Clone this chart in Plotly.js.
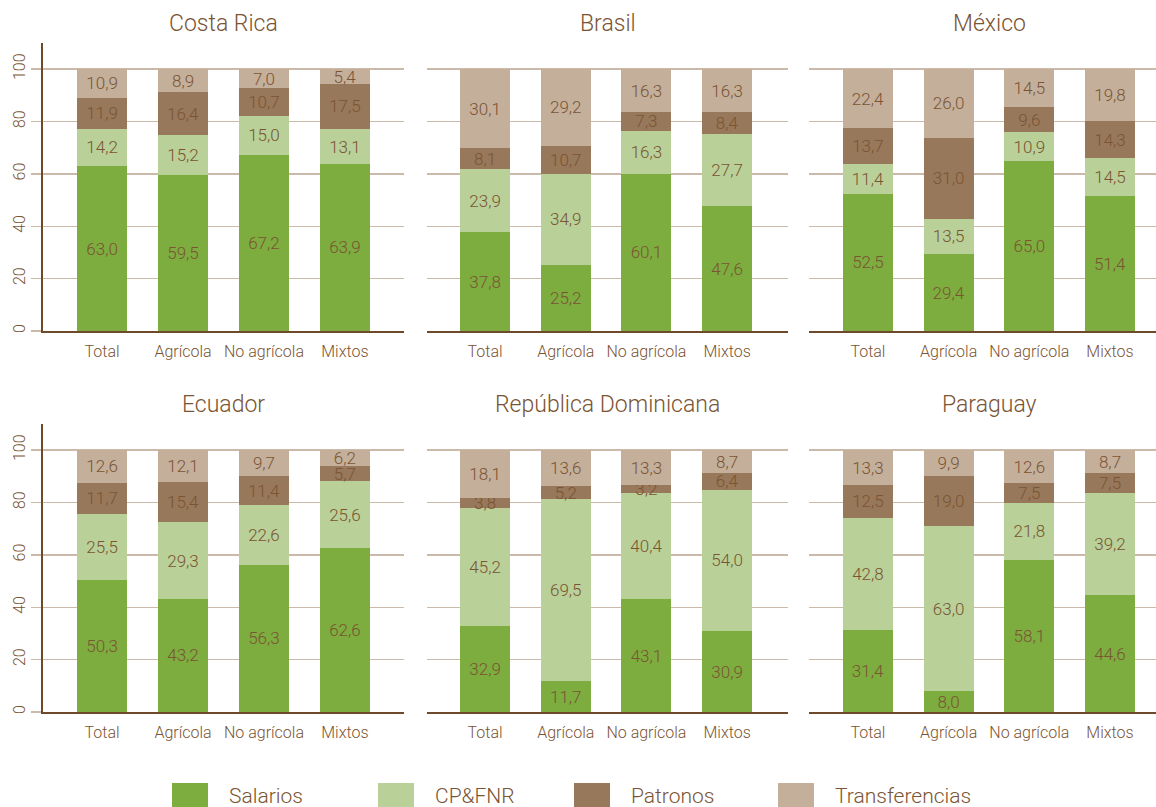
<!DOCTYPE html>
<html>
<head>
<meta charset="utf-8">
<script src="https://cdn.plot.ly/plotly-3.0.1.min.js"></script>
<style>html,body{margin:0;padding:0;background:#fff;}#chart{width:1156px;height:807px;}</style>
</head>
<body>
<div id="chart"></div>
<script>
// ---- Data ----
const categories = ['Total', 'Agrícola', 'No agrícola', 'Mixtos'];
const countries = ['Costa Rica', 'Brasil', 'México', 'Ecuador', 'República Dominicana', 'Paraguay'];
const seriesNames = ['Salarios', 'CP&FNR', 'Patronos', 'Transferencias'];
const salarios = [
  [63.0, 59.5, 67.2, 63.9],
  [37.8, 25.2, 60.1, 47.6],
  [52.5, 29.4, 65.0, 51.4],
  [50.3, 43.2, 56.3, 62.6],
  [32.9, 11.7, 43.1, 30.9],
  [31.4, 8.0, 58.1, 44.6]
];
const cpfnr = [
  [14.2, 15.2, 15.0, 13.1],
  [23.9, 34.9, 16.3, 27.7],
  [11.4, 13.5, 10.9, 14.5],
  [25.5, 29.3, 22.6, 25.6],
  [45.2, 69.5, 40.4, 54.0],
  [42.8, 63.0, 21.8, 39.2]
];
const patronos = [
  [11.9, 16.4, 10.7, 17.5],
  [8.1, 10.7, 7.3, 8.4],
  [13.7, 31.0, 9.6, 14.3],
  [11.7, 15.4, 11.4, 5.7],
  [3.8, 5.2, 3.2, 6.4],
  [12.5, 19.0, 7.5, 7.5]
];
const transferencias = [
  [10.9, 8.9, 7.0, 5.4],
  [30.1, 29.2, 16.3, 16.3],
  [22.4, 26.0, 14.5, 19.8],
  [12.6, 12.1, 9.7, 6.2],
  [18.1, 13.6, 13.3, 8.7],
  [13.3, 9.9, 12.6, 8.7]
];
const yTicks = [0, 20, 40, 60, 80, 100];

// ---- Style ----
const colors = ['#7dad3f', '#b9d098', '#98785a', '#c4af9b'];
const textColor = '#7a5433';
const gridColor = '#cbbaaa';
const axisColor = '#6e4a2a';
const FONT = 'Roboto, "Liberation Sans", Arial, sans-serif';
const W = 1156, H = 807;

const allSeries = [salarios, cpfnr, patronos, transferencias];

// subplot geometry (pixels)
const colDomains = [[43, 404], [427, 788], [809, 1156]];
const colRanges = [[-0.73, 3.73], [-0.72, 3.755], [-0.73, 3.57]];
const rowDomains = [[43, 331], [424, 712]]; // top px, bottom px
const titleX = [223.5, 607.5, 989];
const titleY = [24, 405];

const traces = [];
const layout = {
  width: W, height: H,
  margin: {l: 0, r: 0, t: 0, b: 0},
  paper_bgcolor: '#ffffff',
  plot_bgcolor: 'rgba(0,0,0,0)',
  barmode: 'stack',
  separators: ',.',
  showlegend: false,
  font: {family: FONT, color: textColor, weight: 300},
  annotations: [],
  shapes: []
};

countries.forEach((country, i) => {
  const row = Math.floor(i / 3), col = i % 3;
  const n = i + 1;
  const xa = n === 1 ? 'x' : 'x' + n;
  const ya = n === 1 ? 'y' : 'y' + n;
  allSeries.forEach((s, k) => {
    traces.push({
      type: 'bar',
      name: seriesNames[k],
      x: categories,
      y: s[i],
      xaxis: xa, yaxis: ya,
      width: 0.62,
      marker: {color: colors[k], line: {width: 0}},
      texttemplate: '%{y:.1f}',
      textposition: 'inside',
      insidetextanchor: 'middle',
      constraintext: 'none',
      textfont: {family: FONT, size: 17, color: textColor, weight: 300},
      hoverinfo: 'name+y',
      showlegend: false
    });
  });
  const xd = colDomains[col], yd = rowDomains[row];
  layout['xaxis' + (n === 1 ? '' : n)] = {
    domain: [xd[0] / W, xd[1] / W],
    range: colRanges[col],
    anchor: ya,
    type: 'category',
    showline: true, linecolor: axisColor, linewidth: 2,
    showgrid: false, zeroline: false,
    ticks: '', ticklabelstandoff: 5,
    tickfont: {family: FONT, size: 16, color: textColor, weight: 300},
    fixedrange: true
  };
  layout['yaxis' + (n === 1 ? '' : n)] = {
    domain: [1 - yd[1] / H, 1 - yd[0] / H],
    range: [0, 110],
    anchor: xa,
    tickvals: yTicks,
    showgrid: true, gridcolor: gridColor, gridwidth: 1.5,
    zeroline: false,
    showline: col === 0, linecolor: axisColor, linewidth: 2,
    showticklabels: col === 0,
    ticks: col === 0 ? 'outside' : '', ticklen: 10, tickcolor: gridColor, tickwidth: 1.5,
    tickangle: -90,
    tickfont: {family: FONT, size: 16, color: textColor, weight: 300},
    fixedrange: true
  };
  layout.annotations.push({
    text: country, xref: 'paper', yref: 'paper',
    x: titleX[col] / W, y: 1 - titleY[row] / H,
    xanchor: 'center', yanchor: 'middle', showarrow: false,
    font: {family: FONT, size: 23, color: textColor, weight: 300}
  });
});

// ---- Legend (large swatches) ----
const legendX = [172, 378, 574, 778];
seriesNames.forEach((name, k) => {
  layout.shapes.push({
    type: 'rect', xref: 'paper', yref: 'paper',
    x0: legendX[k] / W, x1: (legendX[k] + 36) / W,
    y0: 1 - 808 / H, y1: 1 - 783 / H,
    fillcolor: colors[k], line: {width: 0}
  });
  layout.annotations.push({
    text: name, xref: 'paper', yref: 'paper',
    x: (legendX[k] + 55) / W, y: 1 - 796 / H,
    xanchor: 'left', yanchor: 'middle', showarrow: false,
    font: {family: FONT, size: 21, color: textColor, weight: 300}
  });
});

Plotly.newPlot('chart', traces, layout, {displayModeBar: false, staticPlot: true});
</script>
</body>
</html>
